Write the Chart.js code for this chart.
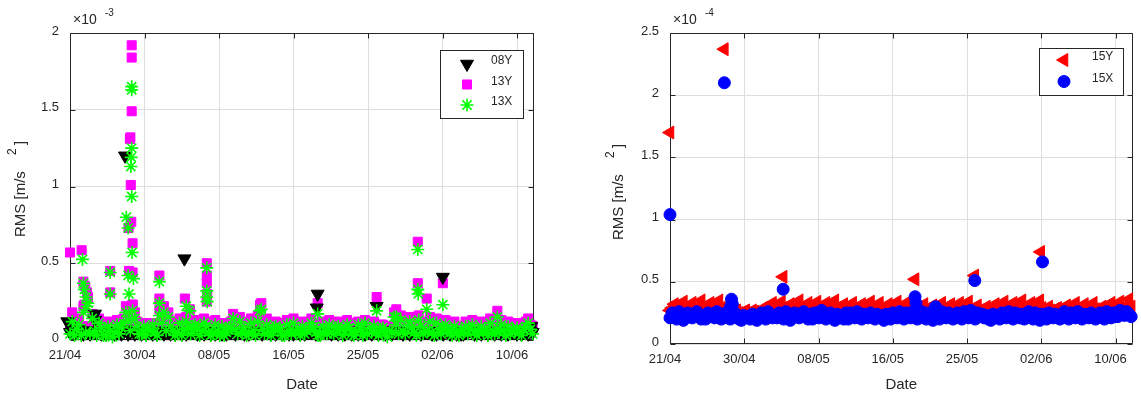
<!DOCTYPE html>
<html>
<head>
<meta charset="utf-8">
<script src="https://cdn.jsdelivr.net/npm/chart.js@4.4.1/dist/chart.umd.min.js"></script>
<style>
  html, body { margin: 0; padding: 0; background: #fff; }
  #wrap { position: relative; width: 1141px; height: 396px; }
  canvas { position: absolute; top: 0; }
</style>
</head>
<body>
<div id="wrap">
  <canvas id="leftChart" width="570" height="396" style="left:0"></canvas>
  <canvas id="rightChart" width="571" height="396" style="left:570px"></canvas>
</div>
<script>
// --- date axis (shared by both panels) ---
const dateLabels = ['21/04', '30/04', '08/05', '16/05', '25/05', '02/06', '10/06'];
const dayStep = 50 / 6;     // days between date ticks
const sampleStep = 1 / 4;   // base samples every 6 h

// --- left panel: base RMS, unit 1e-5 m/s^2 (one row = 4 days) ---
const rms08Y = [
  5, 6, 5, 5, 7, 5, 4, 6, 5, 4, 6, 5, 5, 6, 4, 5,
  4, 5, 5, 6, 4, 5, 6, 4, 5, 7, 4, 5, 6, 4, 5, 5,
  4, 6, 5, 5, 5, 4, 6, 4, 5, 6, 4, 5, 5, 4, 6, 4,
  5, 5, 4, 6, 4, 5, 5, 5, 6, 4, 5, 5, 4, 6, 5, 4,
  5, 4, 5, 6, 4, 5, 4, 5, 5, 6, 4, 5, 5, 5, 4, 6,
  4, 6, 5, 5, 5, 6, 4, 5, 5, 5, 4, 6, 4, 5, 5, 4,
  5, 5, 4, 6, 4, 5, 5, 4, 6, 4, 5, 5, 5, 6, 4, 5,
  4, 5, 5, 6, 5, 4, 5, 5, 4, 6, 5, 4, 5, 5, 4, 6,
  5, 4, 6, 5, 4, 5, 6, 4, 5, 5, 4, 5, 6, 4, 5, 5,
  4, 6, 5, 5, 5, 4, 6, 5, 4, 5, 5, 6, 5, 4, 5, 5,
  5, 5, 4, 6, 4, 5, 5, 4, 6, 5, 4, 5, 5, 4, 6, 4,
  4, 5, 5, 6, 5, 4, 5, 5, 4, 6, 5, 4, 5, 5, 4, 6,
  5, 4, 6, 5, 4, 5, 5, 5, 4, 6, 4, 5, 5, 4, 6, 5
];
const rms13Y = [
  9, 18, 6, 12, 14, 8, 22, 9, 28, 7, 17, 13, 8, 14, 11, 9,
  7, 12, 9, 6, 10, 13, 8, 11, 14, 22, 16, 12, 23, 18, 12, 9,
  8, 11, 7, 9, 10, 11, 8, 7, 20, 14, 22, 12, 18, 12, 9, 11,
  10, 14, 8, 9, 15, 11, 9, 12, 13, 10, 8, 9, 14, 12, 9, 8,
  8, 13, 10, 9, 11, 7, 9, 10, 12, 17, 11, 9, 15, 9, 12, 8,
  9, 14, 11, 8, 16, 23, 12, 10, 14, 10, 8, 11, 12, 9, 11, 8,
  8, 13, 10, 9, 14, 9, 11, 8, 12, 8, 10, 9, 14, 11, 9, 10,
  7, 12, 10, 8, 13, 9, 8, 11, 12, 10, 7, 9, 13, 11, 8, 9,
  9, 12, 10, 8, 13, 8, 11, 9, 12, 9, 7, 10, 10, 8, 6, 9,
  9, 18, 13, 10, 16, 10, 8, 12, 15, 11, 9, 10, 16, 12, 8, 9,
  10, 15, 9, 8, 14, 11, 8, 10, 13, 9, 10, 8, 12, 8, 7, 9,
  9, 12, 8, 10, 13, 10, 7, 9, 12, 9, 11, 8, 14, 10, 8, 9,
  9, 13, 10, 8, 12, 8, 11, 9, 11, 9, 7, 10, 12, 14, 10, 9
];
const rms13X = [
  4, 12, 3, 7, 10, 3, 18, 5, 24, 4, 14, 6, 3, 11, 8, 3,
  3, 9, 6, 2, 5, 10, 4, 8, 11, 18, 13, 6, 19, 14, 9, 4,
  4, 9, 3, 7, 6, 10, 5, 3, 16, 11, 18, 6, 15, 9, 6, 3,
  5, 11, 3, 7, 12, 8, 4, 9, 10, 7, 3, 6, 11, 9, 5, 3,
  4, 10, 6, 3, 9, 3, 5, 8, 8, 14, 7, 4, 12, 5, 8, 3,
  4, 11, 6, 3, 12, 19, 7, 4, 10, 5, 3, 8, 9, 6, 8, 3,
  3, 10, 6, 4, 11, 5, 7, 3, 9, 4, 6, 8, 11, 8, 5, 3,
  3, 9, 6, 4, 10, 5, 4, 8, 9, 7, 3, 6, 10, 8, 4, 3,
  5, 10, 7, 3, 11, 4, 8, 5, 9, 5, 3, 7, 8, 5, 2, 6,
  5, 15, 10, 4, 13, 6, 4, 9, 12, 8, 5, 3, 13, 9, 4, 6,
  6, 12, 5, 3, 11, 7, 4, 8, 10, 6, 5, 3, 9, 5, 3, 7,
  5, 9, 4, 7, 10, 6, 3, 5, 9, 5, 7, 3, 11, 6, 4, 7,
  5, 10, 6, 3, 9, 4, 7, 5, 8, 5, 3, 7, 9, 11, 7, 4
];
// bursts: [day after 21/04, RMS in 1e-3 m/s^2]
const peaks08Y = [[-0.3, 0.12], [0.1, 0.09], [2.8, 0.17], [2.8, 0.13], [6.15, 1.2], [12.8, 0.53],
  [27.7, 0.3], [27.6, 0.21], [34.3, 0.22], [41.7, 0.41], [51.6, 0.09]];
const peaks13Y = [[0, 0.57], [1.3, 0.585], [1.5, 0.38], [1.6, 0.23], [1.7, 0.35], [1.9, 0.31], [2.0, 0.27],
  [4.5, 0.45], [4.5, 0.31],
  [6.55, 0.73], [6.6, 0.45], [6.7, 1.31], [6.75, 1.32], [6.8, 1.01], [6.9, 1.92], [6.9, 1.84], [6.85, 0.77],
  [6.9, 1.49], [7.0, 0.63], [7.0, 0.44], [7.0, 0.23],
  [10.0, 0.42], [10.0, 0.27], [12.85, 0.27], [13.4, 0.2],
  [15.3, 0.5], [15.3, 0.42], [15.3, 0.37], [15.35, 0.3], [15.3, 0.25],
  [21.4, 0.24], [27.7, 0.24], [34.3, 0.28], [36.5, 0.2],
  [38.9, 0.64], [38.9, 0.37], [39.9, 0.27], [41.7, 0.37], [47.8, 0.19]];
const peaks13X = [[1.4, 0.525], [1.5, 0.37], [1.6, 0.33], [1.8, 0.28], [1.9, 0.22],
  [4.5, 0.44], [4.5, 0.3],
  [6.3, 0.8], [6.5, 0.73], [6.5, 0.42], [6.6, 0.3], [6.8, 1.13], [6.85, 1.19], [6.9, 1.25],
  [6.9, 1.65], [6.9, 1.63], [6.9, 0.935], [6.95, 0.57], [7.1, 0.4],
  [10.0, 0.38], [10.0, 0.24], [13.0, 0.22], [13.4, 0.19],
  [15.3, 0.47], [15.3, 0.32], [15.3, 0.28], [15.35, 0.25],
  [21.4, 0.2], [27.7, 0.17], [34.3, 0.19], [36.5, 0.15],
  [38.9, 0.59], [38.9, 0.33], [38.95, 0.3], [39.9, 0.2], [41.7, 0.23], [47.8, 0.15]];

// --- right panel: base RMS, unit 1e-6 m/s^2 (one row = 4 days) ---
const rms15Y = [
  27, 29, 32, 28, 28, 30, 34, 29, 27, 29, 33, 28, 28, 30, 35, 29,
  27, 29, 33, 28, 28, 31, 35, 29, 27, 28, 31, 27, 25, 26, 27, 25,
  24, 26, 27, 25, 25, 27, 26, 25, 26, 27, 29, 27, 27, 29, 33, 28,
  28, 30, 34, 29, 27, 28, 32, 28, 28, 30, 35, 29, 27, 29, 33, 28,
  28, 30, 34, 28, 27, 29, 33, 28, 28, 31, 35, 29, 27, 28, 32, 28,
  28, 30, 33, 28, 26, 28, 32, 28, 27, 29, 34, 28, 28, 30, 33, 28,
  27, 28, 32, 28, 28, 31, 34, 28, 27, 29, 33, 28, 28, 30, 35, 29,
  27, 29, 32, 28, 27, 28, 31, 27, 28, 30, 33, 28, 27, 28, 32, 28,
  27, 29, 33, 28, 28, 30, 34, 28, 27, 28, 31, 27, 26, 28, 30, 27,
  27, 29, 32, 28, 28, 30, 34, 28, 27, 28, 33, 28, 28, 31, 35, 29,
  27, 29, 33, 28, 28, 31, 35, 29, 27, 28, 30, 27, 26, 28, 29, 27,
  27, 28, 31, 28, 28, 30, 33, 28, 27, 28, 32, 28, 27, 29, 33, 28,
  26, 28, 30, 27, 27, 29, 33, 28, 28, 30, 34, 28, 28, 31, 36, 30
];
const rms15X = [
  21, 25, 23, 20, 26, 24, 19, 22, 25, 22, 21, 24, 26, 23, 20, 22,
  20, 25, 22, 24, 21, 26, 24, 20, 21, 25, 23, 20, 21, 25, 22, 20,
  19, 23, 21, 22, 20, 24, 22, 19, 21, 25, 23, 20, 26, 24, 21, 22,
  21, 25, 22, 20, 26, 23, 19, 24, 25, 24, 21, 22, 26, 22, 20, 24,
  20, 25, 23, 21, 27, 24, 20, 22, 25, 22, 19, 24, 21, 23, 20, 25,
  20, 25, 23, 21, 26, 22, 20, 24, 23, 21, 25, 22, 20, 24, 22, 21,
  19, 24, 22, 20, 25, 23, 21, 26, 24, 20, 25, 22, 21, 26, 23, 20,
  21, 26, 23, 20, 25, 22, 19, 24, 23, 20, 26, 24, 21, 25, 23, 20,
  21, 25, 23, 20, 26, 24, 21, 27, 23, 20, 25, 22, 24, 21, 23, 20,
  19, 24, 21, 22, 20, 25, 23, 21, 26, 24, 20, 25, 22, 21, 24, 20,
  21, 26, 23, 20, 25, 24, 19, 24, 22, 20, 25, 23, 21, 24, 22, 20,
  21, 26, 24, 20, 25, 22, 21, 26, 23, 20, 24, 22, 21, 25, 23, 20,
  21, 25, 23, 20, 26, 24, 21, 25, 22, 22, 27, 25, 23, 26, 24, 22
];
// bursts: [day after 21/04, RMS in 1e-4 m/s^2]
const peaks15Y = [[0, 1.70], [6.1, 2.37], [12.7, 0.54], [27.5, 0.52], [34.2, 0.55], [41.6, 0.74]];
const peaks15X = [[0, 1.04], [6.1, 2.1], [6.8, 0.3], [6.9, 0.36], [7.0, 0.32], [12.7, 0.44],
  [27.5, 0.38], [27.6, 0.33], [29.8, 0.3], [34.2, 0.51], [41.8, 0.66]];

// base samples are stored 100x smaller than the axis unit
const toPoints = (base, peaks) =>
  base.map((v, i) => ({ x: i * sampleStep, y: v / 100 }))
    .concat(peaks.map(([d, v]) => ({ x: d, y: v })));

Chart.defaults.font.family = "'Liberation Sans', Arial, Helvetica, sans-serif";
Chart.defaults.color = '#262626';

const INK = '#262626';

// box, inward ticks, y label with exponent, legend box (MATLAB look)
const matlabFrame = {
  id: 'matlabFrame',
  beforeDatasetsDraw(chart, args, o) {
    const { ctx, chartArea: a, scales: { x, y } } = chart;
    const L = Math.round(a.left) + 0.5, R = Math.round(a.right) - 0.5;
    const T = Math.round(a.top) + 0.5, B = Math.round(a.bottom) - 0.5;
    ctx.save();
    ctx.strokeStyle = INK;
    ctx.lineWidth = 1;
    ctx.beginPath();
    x.ticks.forEach(t => {
      const px = Math.round(x.getPixelForValue(t.value)) + 0.5;
      ctx.moveTo(px, T); ctx.lineTo(px, T + 5);
      ctx.moveTo(px, B); ctx.lineTo(px, B - 5);
    });
    y.ticks.forEach(t => {
      const py = Math.round(y.getPixelForValue(t.value)) + 0.5;
      ctx.moveTo(L, py); ctx.lineTo(L + 5, py);
      ctx.moveTo(R, py); ctx.lineTo(R - 5, py);
    });
    ctx.rect(L, T, R - L, B - T);
    ctx.stroke();
    ctx.restore();
  },
  afterDraw(chart, args, o) {
    const { ctx, chartArea: a } = chart;
    const fam = Chart.defaults.font.family;
    ctx.save();
    ctx.fillStyle = INK;
    // exponent above the y axis
    ctx.textBaseline = 'alphabetic';
    ctx.textAlign = 'left';
    ctx.font = '14px ' + fam;
    ctx.fillText('\u00d710', a.left + 3, 24);
    ctx.font = '10px ' + fam;
    ctx.fillText(o.exponent, a.left + 35, 16);
    // rotated y label: RMS [m/s  2  ]
    ctx.translate(o.labelX, o.labelY);
    ctx.rotate(-Math.PI / 2);
    ctx.font = '15px ' + fam;
    ctx.fillText('RMS [m/s', 0, 0);
    ctx.font = '12px ' + fam;
    ctx.fillText('2', 82, -9);
    ctx.font = '15px ' + fam;
    ctx.fillText(']', 92, 0);
    ctx.restore();

    // legend
    const lg = o.legend;
    ctx.save();
    ctx.fillStyle = '#fff';
    ctx.fillRect(lg.x, lg.y, lg.w, lg.h);
    ctx.strokeStyle = INK;
    ctx.lineWidth = 1;
    ctx.strokeRect(lg.x + 0.5, lg.y + 0.5, lg.w, lg.h);
    ctx.font = '12px ' + fam;
    ctx.textBaseline = 'middle';
    ctx.textAlign = 'left';
    chart.data.datasets.forEach((ds, i) => {
      const cy = lg.y + lg.row0 + i * lg.rowGap;
      ctx.fillStyle = ds.pointBackgroundColor || 'transparent';
      ctx.strokeStyle = ds.pointBorderColor;
      ctx.lineWidth = ds.pointBorderWidth;
      Chart.helpers.drawPoint(ctx, {
        pointStyle: ds.pointStyle, rotation: ds.pointRotation || 0,
        radius: ds.pointRadius, borderWidth: ds.pointBorderWidth
      }, lg.x + lg.markX, cy);
      ctx.fillStyle = INK;
      ctx.fillText(ds.label, lg.x + lg.textX, cy - 3);
    });
    ctx.restore();
  }
};

function dateAxis(height) {
  return {
    type: 'linear',
    min: 0,
    max: 6.228 * dayStep,
    afterBuildTicks: s => { s.ticks = dateLabels.map((_, i) => ({ value: i * dayStep })); },
    afterFit: s => { s.height = height; },
    grid: { color: '#dedede', drawTicks: false },
    border: { display: false },
    ticks: {
      padding: 8, labelOffset: -5, color: INK, font: { size: 13 },
      maxRotation: 0, autoSkip: false,
      callback: (v, i) => dateLabels[i]
    },
    title: { display: true, text: 'Date', color: INK, font: { size: 15 }, padding: { top: 0, bottom: 2 } }
  };
}

function rmsAxis(max, width) {
  return {
    min: 0,
    max: max,
    afterFit: s => { s.width = width; },
    grid: { color: '#dedede', drawTicks: false },
    border: { display: false },
    ticks: { stepSize: 0.5, padding: 11, labelOffset: -2, color: INK, font: { size: 13 }, callback: v => String(v) }
  };
}

const common = {
  responsive: false,
  animation: false,
  events: [],
  plugins: { legend: { display: false }, tooltip: { enabled: false } }
};

new Chart(document.getElementById('leftChart'), {
  type: 'scatter',
  data: {
    datasets: [
      {
        label: '08Y', data: toPoints(rms08Y, peaks08Y), order: 1, clip: false,
        pointStyle: 'triangle', pointRotation: 180, pointRadius: 7.5,
        pointBackgroundColor: '#000000', pointBorderColor: '#000000', pointBorderWidth: 1
      },
      {
        label: '13Y', data: toPoints(rms13Y, peaks13Y), order: 2, clip: false,
        pointStyle: 'rect', pointRadius: 6.4,
        pointBackgroundColor: '#ff00ff', pointBorderColor: '#ff00ff', pointBorderWidth: 1
      },
      {
        label: '13X', data: toPoints(rms13X, peaks13X), order: 0, clip: false,
        pointStyle: 'star', pointRadius: 6.5,
        pointBackgroundColor: '#00ff00', pointBorderColor: '#00ff00', pointBorderWidth: 1.6
      }
    ]
  },
  options: {
    ...common,
    layout: { padding: { left: 0, right: 36, top: 33, bottom: 0 } },
    scales: { x: dateAxis(56), y: rmsAxis(2, 70) },
    plugins: {
      ...common.plugins,
      matlabFrame: {
        exponent: '-3', labelX: 25, labelY: 237,
        legend: { x: 440, y: 50, w: 83, h: 68, row0: 14, rowGap: 20.5, markX: 27, textX: 51 }
      }
    }
  },
  plugins: [matlabFrame]
});

new Chart(document.getElementById('rightChart'), {
  type: 'scatter',
  data: {
    datasets: [
      {
        label: '15Y', data: toPoints(rms15Y, peaks15Y), order: 1, clip: false,
        pointStyle: 'triangle', pointRotation: -90, pointRadius: 7.5,
        pointBackgroundColor: '#ff0000', pointBorderColor: '#ff0000', pointBorderWidth: 1
      },
      {
        label: '15X', data: toPoints(rms15X, peaks15X), order: 0, clip: false,
        pointStyle: 'circle', pointRadius: 6,
        pointBackgroundColor: '#0000ff', pointBorderColor: '#0000ff', pointBorderWidth: 1
      }
    ]
  },
  options: {
    ...common,
    layout: { padding: { left: 0, right: 4, top: 33, bottom: 0 } },
    scales: { x: dateAxis(52), y: rmsAxis(2.5, 100) },
    plugins: {
      ...common.plugins,
      matlabFrame: {
        exponent: '-4', labelX: 53, labelY: 240,
        legend: { x: 469, y: 48, w: 84, h: 47, row0: 12, rowGap: 21.5, markX: 25, textX: 53 }
      }
    }
  },
  plugins: [matlabFrame]
});
</script>
</body>
</html>
